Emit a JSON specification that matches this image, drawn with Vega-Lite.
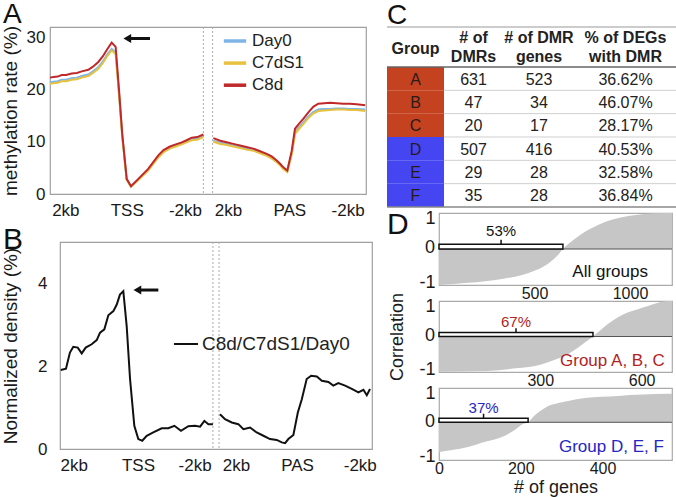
{
  "$schema": "https://vega.github.io/schema/vega-lite/v6.json",
  "background": "white",
  "padding": {"left": 0, "top": 0, "right": 0, "bottom": 0},
  "config": {
    "font": "Liberation Sans",
    "view": {"stroke": null},
    "axis": {"grid": false, "domain": false, "ticks": false, "labelColor": "#1a1a1a", "titleColor": "#1a1a1a", "titleFontWeight": "normal", "labelFlush": false, "labelOverlap": false, "labelBound": false},
    "title": {"fontWeight": "normal", "fontSize": 30, "anchor": "start", "frame": "group", "offset": 0, "baseline": "alphabetic", "color": "#111"},
    "text": {"font": "Liberation Sans"}
  },
  "datasets": {
    "methyl": [
      {"pos":0,"seg":"TSS","Day0":21.4,"C7dS1":21.1,"C8d":22.3},
      {"pos":2.2,"seg":"TSS","Day0":21.5,"C7dS1":21.2,"C8d":22.4},
      {"pos":5,"seg":"TSS","Day0":21.6,"C7dS1":21.3,"C8d":22.5},
      {"pos":7.6,"seg":"TSS","Day0":21.9,"C7dS1":21.6,"C8d":22.8},
      {"pos":10.5,"seg":"TSS","Day0":21.9,"C7dS1":21.6,"C8d":22.8},
      {"pos":14.1,"seg":"TSS","Day0":22.2,"C7dS1":21.9,"C8d":23.1},
      {"pos":17.5,"seg":"TSS","Day0":22.3,"C7dS1":22.0,"C8d":23.2},
      {"pos":20.7,"seg":"TSS","Day0":22.6,"C7dS1":22.3,"C8d":23.5},
      {"pos":25,"seg":"TSS","Day0":22.9,"C7dS1":22.6,"C8d":23.8},
      {"pos":28,"seg":"TSS","Day0":23.5,"C7dS1":23.2,"C8d":24.4},
      {"pos":31.5,"seg":"TSS","Day0":24.3,"C7dS1":24.0,"C8d":25.3},
      {"pos":34.5,"seg":"TSS","Day0":25.4,"C7dS1":25.1,"C8d":26.4},
      {"pos":37,"seg":"TSS","Day0":26.6,"C7dS1":26.3,"C8d":27.6},
      {"pos":40.2,"seg":"TSS","Day0":27.8,"C7dS1":27.5,"C8d":29.0},
      {"pos":42.8,"seg":"TSS","Day0":27.1,"C7dS1":26.8,"C8d":28.2},
      {"pos":45,"seg":"TSS","Day0":19.3,"C7dS1":19.0,"C8d":19.9},
      {"pos":47.1,"seg":"TSS","Day0":11.2,"C7dS1":11.0,"C8d":11.5},
      {"pos":50,"seg":"TSS","Day0":2.8,"C7dS1":2.7,"C8d":2.9},
      {"pos":52.8,"seg":"TSS","Day0":1.4,"C7dS1":1.4,"C8d":1.5},
      {"pos":57.6,"seg":"TSS","Day0":2.8,"C7dS1":2.7,"C8d":2.9},
      {"pos":64,"seg":"TSS","Day0":4.6,"C7dS1":4.5,"C8d":4.8},
      {"pos":70.6,"seg":"TSS","Day0":7.1,"C7dS1":7.0,"C8d":7.4},
      {"pos":74,"seg":"TSS","Day0":8.1,"C7dS1":8.0,"C8d":8.4},
      {"pos":78.2,"seg":"TSS","Day0":8.9,"C7dS1":8.7,"C8d":9.1},
      {"pos":82,"seg":"TSS","Day0":9.3,"C7dS1":9.1,"C8d":9.5},
      {"pos":85.9,"seg":"TSS","Day0":9.7,"C7dS1":9.5,"C8d":9.9},
      {"pos":89,"seg":"TSS","Day0":10.1,"C7dS1":9.9,"C8d":10.3},
      {"pos":92.4,"seg":"TSS","Day0":10.5,"C7dS1":10.3,"C8d":10.8},
      {"pos":96,"seg":"TSS","Day0":10.6,"C7dS1":10.4,"C8d":10.9},
      {"pos":100,"seg":"TSS","Day0":11.1,"C7dS1":10.9,"C8d":11.4},
      {"pos":106.5,"seg":"PAS","Day0":10.2,"C7dS1":10.0,"C8d":10.7},
      {"pos":111,"seg":"PAS","Day0":9.8,"C7dS1":9.6,"C8d":10.2},
      {"pos":115.2,"seg":"PAS","Day0":9.6,"C7dS1":9.4,"C8d":9.9},
      {"pos":119.5,"seg":"PAS","Day0":9.3,"C7dS1":9.1,"C8d":9.6},
      {"pos":123.9,"seg":"PAS","Day0":9.0,"C7dS1":8.8,"C8d":9.3},
      {"pos":128,"seg":"PAS","Day0":8.7,"C7dS1":8.5,"C8d":9.0},
      {"pos":132.5,"seg":"PAS","Day0":8.5,"C7dS1":8.3,"C8d":8.7},
      {"pos":137,"seg":"PAS","Day0":8.0,"C7dS1":7.8,"C8d":8.2},
      {"pos":141.3,"seg":"PAS","Day0":7.5,"C7dS1":7.3,"C8d":7.7},
      {"pos":144.5,"seg":"PAS","Day0":6.9,"C7dS1":6.8,"C8d":7.2},
      {"pos":147.8,"seg":"PAS","Day0":6.2,"C7dS1":6.1,"C8d":6.4},
      {"pos":150,"seg":"PAS","Day0":5.6,"C7dS1":5.5,"C8d":5.8},
      {"pos":152.1,"seg":"PAS","Day0":4.9,"C7dS1":4.8,"C8d":5.1},
      {"pos":154.7,"seg":"PAS","Day0":4.3,"C7dS1":4.2,"C8d":4.5},
      {"pos":157.6,"seg":"PAS","Day0":7.8,"C7dS1":7.6,"C8d":8.3},
      {"pos":159.7,"seg":"PAS","Day0":11.8,"C7dS1":11.5,"C8d":12.5},
      {"pos":162.4,"seg":"PAS","Day0":12.8,"C7dS1":12.5,"C8d":13.5},
      {"pos":165.1,"seg":"PAS","Day0":13.7,"C7dS1":13.4,"C8d":14.4},
      {"pos":168.3,"seg":"PAS","Day0":14.8,"C7dS1":14.5,"C8d":15.6},
      {"pos":171.6,"seg":"PAS","Day0":15.7,"C7dS1":15.4,"C8d":16.7},
      {"pos":174.9,"seg":"PAS","Day0":16.2,"C7dS1":15.9,"C8d":17.3},
      {"pos":178.7,"seg":"PAS","Day0":16.3,"C7dS1":16.0,"C8d":17.4},
      {"pos":182.5,"seg":"PAS","Day0":16.3,"C7dS1":16.1,"C8d":17.5},
      {"pos":186.8,"seg":"PAS","Day0":16.4,"C7dS1":16.2,"C8d":17.4},
      {"pos":191.2,"seg":"PAS","Day0":16.4,"C7dS1":16.2,"C8d":17.3},
      {"pos":195.5,"seg":"PAS","Day0":16.3,"C7dS1":16.1,"C8d":17.3},
      {"pos":199.9,"seg":"PAS","Day0":16.3,"C7dS1":16.1,"C8d":17.2},
      {"pos":205.5,"seg":"PAS","Day0":16.2,"C7dS1":15.9,"C8d":17.0}
    ],
    "dens": [
      {"pos":0.5,"seg":"TSS","dens":1.91},{"pos":3.9,"seg":"TSS","dens":1.94},{"pos":6.5,"seg":"TSS","dens":2.33},
      {"pos":8.7,"seg":"TSS","dens":2.47},{"pos":11.6,"seg":"TSS","dens":2.45},{"pos":14.2,"seg":"TSS","dens":2.31},
      {"pos":16.8,"seg":"TSS","dens":2.45},{"pos":20.7,"seg":"TSS","dens":2.53},{"pos":24,"seg":"TSS","dens":2.63},
      {"pos":26.2,"seg":"TSS","dens":2.81},{"pos":29,"seg":"TSS","dens":2.89},{"pos":31.6,"seg":"TSS","dens":3.23},
      {"pos":34.9,"seg":"TSS","dens":3.33},{"pos":37.1,"seg":"TSS","dens":3.49},{"pos":39.2,"seg":"TSS","dens":3.73},
      {"pos":41.4,"seg":"TSS","dens":3.81},{"pos":43.6,"seg":"TSS","dens":2.97},{"pos":45.8,"seg":"TSS","dens":1.69},
      {"pos":48.6,"seg":"TSS","dens":0.56},{"pos":51.2,"seg":"TSS","dens":0.24},{"pos":53.8,"seg":"TSS","dens":0.2},
      {"pos":56.7,"seg":"TSS","dens":0.32},{"pos":61,"seg":"TSS","dens":0.40},{"pos":66.5,"seg":"TSS","dens":0.50},
      {"pos":70.8,"seg":"TSS","dens":0.50},{"pos":74.8,"seg":"TSS","dens":0.56},{"pos":79.1,"seg":"TSS","dens":0.44},
      {"pos":83.9,"seg":"TSS","dens":0.55},{"pos":88.3,"seg":"TSS","dens":0.56},{"pos":91.6,"seg":"TSS","dens":0.54},
      {"pos":94.4,"seg":"TSS","dens":0.68},{"pos":97,"seg":"TSS","dens":0.60},{"pos":100,"seg":"TSS","dens":0.60},
      {"pos":104.6,"seg":"PAS","dens":0.84},{"pos":107.9,"seg":"PAS","dens":0.72},{"pos":112.3,"seg":"PAS","dens":0.64},
      {"pos":116.6,"seg":"PAS","dens":0.60},{"pos":119.9,"seg":"PAS","dens":0.48},{"pos":124.3,"seg":"PAS","dens":0.52},
      {"pos":128.6,"seg":"PAS","dens":0.40},{"pos":133,"seg":"PAS","dens":0.32},{"pos":137.3,"seg":"PAS","dens":0.24},
      {"pos":141.7,"seg":"PAS","dens":0.22},{"pos":145,"seg":"PAS","dens":0.16},{"pos":147.2,"seg":"PAS","dens":0.14},
      {"pos":149.3,"seg":"PAS","dens":0.24},{"pos":152.6,"seg":"PAS","dens":0.34},{"pos":155.5,"seg":"PAS","dens":0.88},
      {"pos":158.1,"seg":"PAS","dens":1.20},{"pos":161.3,"seg":"PAS","dens":1.69},{"pos":164.2,"seg":"PAS","dens":1.77},
      {"pos":167.9,"seg":"PAS","dens":1.75},{"pos":171.2,"seg":"PAS","dens":1.65},{"pos":175.5,"seg":"PAS","dens":1.62},
      {"pos":178.7,"seg":"PAS","dens":1.53},{"pos":182,"seg":"PAS","dens":1.59},{"pos":186.4,"seg":"PAS","dens":1.53},
      {"pos":190.8,"seg":"PAS","dens":1.45},{"pos":195.1,"seg":"PAS","dens":1.37},{"pos":198.4,"seg":"PAS","dens":1.43},
      {"pos":200.6,"seg":"PAS","dens":1.30},{"pos":202.7,"seg":"PAS","dens":1.45}
    ],
    "table": [
      {"row":"A","group":"A","dmrs":631,"genes":523,"pct":"36.62%"},
      {"row":"B","group":"B","dmrs":47,"genes":34,"pct":"46.07%"},
      {"row":"C","group":"C","dmrs":20,"genes":17,"pct":"28.17%"},
      {"row":"D","group":"D","dmrs":507,"genes":416,"pct":"40.53%"},
      {"row":"E","group":"E","dmrs":29,"genes":28,"pct":"32.58%"},
      {"row":"F","group":"F","dmrs":35,"genes":28,"pct":"36.84%"}
    ],
    "header": [
      {"col":"group","row":"hdr","line":0,"text":"Group"},
      {"col":"dmrs","row":"hdr","line":1,"text":"# of"},
      {"col":"dmrs","row":"hdr","line":2,"text":"DMRs"},
      {"col":"genes","row":"hdr","line":1,"text":"# of DMR"},
      {"col":"genes","row":"hdr","line":2,"text":"genes"},
      {"col":"pct","row":"hdr","line":1,"text":"% of DEGs"},
      {"col":"pct","row":"hdr","line":2,"text":"with DMR"}
    ],
    "d1": [
      {"rank":0,"corr":-1.0},{"rank":152,"corr":-0.94},{"rank":330,"corr":-0.83},{"rank":435,"corr":-0.72},
      {"rank":503,"corr":-0.60},{"rank":571,"corr":-0.41},{"rank":623,"corr":-0.17},{"rank":649,"corr":0},
      {"rank":675,"corr":0.13},{"rank":728,"corr":0.35},{"rank":801,"corr":0.58},{"rank":869,"corr":0.75},
      {"rank":958,"corr":0.88},{"rank":1042,"corr":0.95},{"rank":1131,"corr":0.99},{"rank":1220,"corr":1.0}
    ],
    "d2": [
      {"rank":0,"corr":-0.99},{"rank":145,"corr":-0.97},{"rank":234,"corr":-0.89},{"rank":284,"corr":-0.83},
      {"rank":335,"corr":-0.68},{"rank":382,"corr":-0.50},{"rank":412,"corr":-0.31},{"rank":432,"corr":-0.17},
      {"rank":456,"corr":0},{"rank":500,"corr":0.35},{"rank":530,"corr":0.54},{"rank":560,"corr":0.68},
      {"rank":589,"corr":0.77},{"rank":619,"corr":0.86},{"rank":669,"corr":0.99},{"rank":690,"corr":1.0}
    ],
    "d3": [
      {"rank":0,"corr":-0.87},{"rank":32,"corr":-0.81},{"rank":71,"corr":-0.72},{"rank":113,"corr":-0.57},
      {"rank":154,"corr":-0.43},{"rank":186,"corr":-0.22},{"rank":205,"corr":-0.05},{"rank":218,"corr":0},
      {"rank":235,"corr":0.21},{"rank":259,"corr":0.42},{"rank":316,"corr":0.62},{"rank":357,"corr":0.71},
      {"rank":438,"corr":0.77},{"rank":560,"corr":0.83},{"rank":570,"corr":0.83}
    ],
    "bars": [
      {"panel":"all","neg":649,"mid":325,"label":"53%","name":"All groups"},
      {"panel":"abc","neg":456,"mid":228,"label":"67%","name":"Group A, B, C"},
      {"panel":"def","neg":218,"mid":109,"label":"37%","name":"Group D, E, F"}
    ]
  },
  "resolve": {"scale": {"color": "independent"}, "legend": {"color": "independent"}},
  "hconcat": [
    {
      "resolve": {"scale": {"color": "independent"}, "legend": {"color": "independent"}},
      "vconcat": [
        {
          "width": 316, "height": 167,
          "view": {"stroke": "#a0a0a0", "strokeWidth": 1.2},
          "title": {"text": "A", "fontSize": 28, "dx": -47, "dy": 8},
          "layer": [
            {"data": {"values": [{}]}, "mark": {"type": "rule", "color": "#aaa", "strokeDash": [2, 2], "strokeWidth": 1}, "encoding": {"x": {"datum": 100}}},
            {"data": {"values": [{}]}, "mark": {"type": "rule", "color": "#aaa", "strokeDash": [2, 2], "strokeWidth": 1}, "encoding": {"x": {"datum": 106}}},
            {
              "data": {"name": "methyl"},
              "transform": [{"fold": ["Day0", "C7dS1", "C8d"], "as": ["sample", "rate"]}],
              "mark": {"type": "line", "strokeWidth": 2},
              "encoding": {
                "x": {"field": "pos", "type": "quantitative", "scale": {"domain": [0, 206], "nice": false, "zero": false},
                      "axis": {"values": [10, 50, 88, 116, 156, 194], "labelExpr": "datum.value == 50 ? 'TSS' : datum.value == 156 ? 'PAS' : (datum.value == 10 || datum.value == 116) ? '2kb' : '-2kb'", "labelFontSize": 17, "labelPadding": 8, "title": null}},
                "y": {"field": "rate", "type": "quantitative", "scale": {"domain": [0, 32], "nice": false},
                      "axis": {"values": [0, 10, 20, 30], "labelFontSize": 17, "labelPadding": 5, "title": "methylation rate (%)", "titleFontSize": 19, "titlePadding": 6}},
                "color": {"field": "sample", "type": "nominal", "scale": {"domain": ["Day0", "C7dS1", "C8d"], "range": ["#7fb5e6", "#e7c23f", "#c0282a"]},
                          "legend": {"orient": "none", "legendX": 172, "legendY": 1, "title": null, "symbolType": "stroke", "symbolStrokeWidth": 3.5, "symbolSize": 500, "labelFontSize": 17, "labelOffset": 4, "rowPadding": 1.1, "padding": 0, "labelColor": "#222"}},
                "detail": {"field": "seg", "type": "nominal"}
              }
            },
            {"data": {"values": [{}]}, "mark": {"type": "rule", "strokeWidth": 3, "color": "#111"}, "encoding": {"x": {"datum": 50}, "x2": {"datum": 65.2}, "y": {"datum": 29.8}}},
            {"data": {"values": [{}]}, "mark": {"type": "point", "shape": "triangle-left", "size": 80, "filled": true, "color": "#111", "opacity": 1}, "encoding": {"x": {"datum": 50.4}, "y": {"datum": 29.8}}}
          ]
        },
        {
          "resolve": {"scale": {"color": "independent"}, "legend": {"color": "independent"}},
          "hconcat": [
            {"width": 1, "height": 1, "data": {"values": [{"s": 0}]}, "mark": {"type": "point", "opacity": 0}, "encoding": {"x": {"field": "s", "type": "quantitative", "axis": null}}},
            {
              "width": 312, "height": 207,
              "view": {"stroke": "#a0a0a0", "strokeWidth": 1.2},
              "title": {"text": "B", "dx": -57, "dy": 17},
              "layer": [
                {"data": {"values": [{}]}, "mark": {"type": "rule", "color": "#aaa", "strokeDash": [2, 2], "strokeWidth": 1}, "encoding": {"x": {"datum": 100}}},
                {"data": {"values": [{}]}, "mark": {"type": "rule", "color": "#aaa", "strokeDash": [2, 2], "strokeWidth": 1}, "encoding": {"x": {"datum": 104}}},
                {
                  "data": {"name": "dens"},
                  "transform": [{"fold": ["dens"], "as": ["series_key", "value"]}],
                  "mark": {"type": "line", "strokeWidth": 2},
                  "encoding": {
                    "x": {"field": "pos", "type": "quantitative", "scale": {"domain": [0, 204], "nice": false, "zero": false},
                          "axis": {"values": [9, 51, 88, 115, 155, 196], "labelExpr": "datum.value == 51 ? 'TSS' : datum.value == 155 ? 'PAS' : (datum.value == 9 || datum.value == 115) ? '2kb' : '-2kb'", "labelFontSize": 17, "labelPadding": 8, "title": null}},
                    "y": {"field": "value", "type": "quantitative", "scale": {"domain": [0, 5], "nice": false},
                          "axis": {"values": [0, 2, 4], "labelFontSize": 17, "labelPadding": 13, "title": "Normalized density (%)", "titleFontSize": 19, "titlePadding": 17}},
                    "color": {"field": "series_key", "type": "nominal", "scale": {"domain": ["dens"], "range": ["#111"]},
                              "legend": {"orient": "none", "legendX": 113, "legendY": 89, "title": null, "labelExpr": "'C8d/C7dS1/Day0'", "symbolType": "stroke", "symbolStrokeWidth": 2, "symbolSize": 576, "labelFontSize": 19, "labelOffset": 3, "padding": 0, "labelColor": "#222"}},
                    "detail": {"field": "seg", "type": "nominal"}
                  }
                },
                {"data": {"values": [{}]}, "mark": {"type": "rule", "strokeWidth": 3, "color": "#111"}, "encoding": {"x": {"datum": 50.5}, "x2": {"datum": 64.3}, "y": {"datum": 3.84}}},
                {"data": {"values": [{}]}, "mark": {"type": "point", "shape": "triangle-left", "size": 80, "filled": true, "color": "#111", "opacity": 1}, "encoding": {"x": {"datum": 50.6}, "y": {"datum": 3.84}}}
              ]
            }
          ],
          "spacing": 9,
          "bounds": "flush"
        }
      ],
      "spacing": 48,
      "bounds": "flush"
    },
    {
      "resolve": {"scale": {"color": "independent"}, "legend": {"color": "independent"}},
      "vconcat": [
        {
          "resolve": {"scale": {"color": "independent"}, "legend": {"color": "independent"}},
          "hconcat": [
            {
              "width": 57, "height": 180,
              "title": {"text": "C", "fontSize": 28, "dx": 0, "dy": 8},
              "layer": [
                {"data": {"name": "table"}, "mark": {"type": "rect"},
                 "encoding": {"y": {"field": "row", "type": "nominal", "scale": {"domain": ["hdr", "A", "B", "C", "D", "E", "F"], "paddingInner": 0, "paddingOuter": 0.357, "align": 1}, "axis": null},
                              "color": {"field": "group", "type": "nominal", "scale": {"domain": ["A", "B", "C", "D", "E", "F"], "range": ["#c4421f", "#c4421f", "#c4421f", "#4545f2", "#4545f2", "#4545f2"]}, "legend": null}}},
                {"data": {"name": "table"}, "mark": {"type": "text", "fontSize": 16, "color": "#2a1a1a", "baseline": "middle"},
                 "encoding": {"y": {"field": "row", "type": "nominal", "bandPosition": 0.55}, "text": {"field": "group", "type": "nominal"}}},
                {"data": {"name": "header"}, "transform": [{"filter": "datum.col == 'group'"}], "mark": {"type": "text", "fontSize": 16, "fontWeight": "bold", "color": "#222", "baseline": "middle"},
                 "encoding": {"y": {"field": "row", "type": "nominal", "bandPosition": 0.23}, "text": {"field": "text", "type": "nominal"}}},
                {"data": {"name": "header"}, "transform": [{"filter": "datum.col == 'group'"}], "mark": {"type": "rule", "color": "#999", "strokeWidth": 1.2}, "encoding": {"y": {"field": "row", "type": "nominal", "bandPosition": -0.714}}},
                {"data": {"name": "table"}, "transform": [{"filter": "datum.row == 'A'"}], "mark": {"type": "rule", "color": "#666", "strokeWidth": 1.5}, "encoding": {"y": {"field": "row", "type": "nominal", "bandPosition": 0}}},
                {"data": {"name": "table"}, "transform": [{"filter": "datum.row == 'F'"}], "mark": {"type": "rule", "color": "#888", "strokeWidth": 1.5}, "encoding": {"y": {"field": "row", "type": "nominal", "bandPosition": 1}}}
              ]
            },
            {
              "width": 59, "height": 180,
              "layer": [
                {"data": {"name": "table"}, "mark": {"type": "text", "fontSize": 16, "color": "#222", "baseline": "middle"},
                 "encoding": {"y": {"field": "row", "type": "nominal", "bandPosition": 0.55, "scale": {"domain": ["hdr", "A", "B", "C", "D", "E", "F"], "paddingInner": 0, "paddingOuter": 0.357, "align": 1}, "axis": null}, "text": {"field": "dmrs", "type": "quantitative"}}},
                {"data": {"name": "header"}, "transform": [{"filter": "datum.col == 'dmrs' && datum.line == 1"}], "mark": {"type": "text", "fontSize": 16, "fontWeight": "bold", "color": "#222", "baseline": "middle"},
                 "encoding": {"y": {"field": "row", "type": "nominal", "bandPosition": -0.24}, "text": {"field": "text", "type": "nominal"}}},
                {"data": {"name": "header"}, "transform": [{"filter": "datum.col == 'dmrs' && datum.line == 2"}], "mark": {"type": "text", "fontSize": 16, "fontWeight": "bold", "color": "#222", "baseline": "middle"},
                 "encoding": {"y": {"field": "row", "type": "nominal", "bandPosition": 0.57}, "text": {"field": "text", "type": "nominal"}}},
                {"data": {"name": "header"}, "transform": [{"filter": "datum.col == 'dmrs' && datum.line == 1"}], "mark": {"type": "rule", "color": "#999", "strokeWidth": 1.2}, "encoding": {"y": {"field": "row", "type": "nominal", "bandPosition": -0.714}}},
                {"data": {"name": "table"}, "transform": [{"filter": "datum.row == 'A'"}], "mark": {"type": "rule", "color": "#666", "strokeWidth": 1.5}, "encoding": {"y": {"field": "row", "type": "nominal", "bandPosition": 0}}},
                {"data": {"name": "table"}, "transform": [{"filter": {"field": "row", "oneOf": ["B", "C", "D", "E", "F"]}}], "mark": {"type": "rule", "color": "#cfcfcf", "strokeWidth": 1}, "encoding": {"y": {"field": "row", "type": "nominal", "bandPosition": 0}}},
                {"data": {"name": "table"}, "transform": [{"filter": "datum.row == 'F'"}], "mark": {"type": "rule", "color": "#888", "strokeWidth": 1.5}, "encoding": {"y": {"field": "row", "type": "nominal", "bandPosition": 1}}}
              ]
            },
            {
              "width": 72, "height": 180,
              "layer": [
                {"data": {"name": "table"}, "mark": {"type": "text", "fontSize": 16, "color": "#222", "baseline": "middle"},
                 "encoding": {"y": {"field": "row", "type": "nominal", "bandPosition": 0.55, "scale": {"domain": ["hdr", "A", "B", "C", "D", "E", "F"], "paddingInner": 0, "paddingOuter": 0.357, "align": 1}, "axis": null}, "text": {"field": "genes", "type": "quantitative"}}},
                {"data": {"name": "header"}, "transform": [{"filter": "datum.col == 'genes' && datum.line == 1"}], "mark": {"type": "text", "fontSize": 16, "fontWeight": "bold", "color": "#222", "baseline": "middle"},
                 "encoding": {"y": {"field": "row", "type": "nominal", "bandPosition": -0.24}, "text": {"field": "text", "type": "nominal"}}},
                {"data": {"name": "header"}, "transform": [{"filter": "datum.col == 'genes' && datum.line == 2"}], "mark": {"type": "text", "fontSize": 16, "fontWeight": "bold", "color": "#222", "baseline": "middle"},
                 "encoding": {"y": {"field": "row", "type": "nominal", "bandPosition": 0.57}, "text": {"field": "text", "type": "nominal"}}},
                {"data": {"name": "header"}, "transform": [{"filter": "datum.col == 'genes' && datum.line == 1"}], "mark": {"type": "rule", "color": "#999", "strokeWidth": 1.2}, "encoding": {"y": {"field": "row", "type": "nominal", "bandPosition": -0.714}}},
                {"data": {"name": "table"}, "transform": [{"filter": "datum.row == 'A'"}], "mark": {"type": "rule", "color": "#666", "strokeWidth": 1.5}, "encoding": {"y": {"field": "row", "type": "nominal", "bandPosition": 0}}},
                {"data": {"name": "table"}, "transform": [{"filter": {"field": "row", "oneOf": ["B", "C", "D", "E", "F"]}}], "mark": {"type": "rule", "color": "#cfcfcf", "strokeWidth": 1}, "encoding": {"y": {"field": "row", "type": "nominal", "bandPosition": 0}}},
                {"data": {"name": "table"}, "transform": [{"filter": "datum.row == 'F'"}], "mark": {"type": "rule", "color": "#888", "strokeWidth": 1.5}, "encoding": {"y": {"field": "row", "type": "nominal", "bandPosition": 1}}}
              ]
            },
            {
              "width": 101, "height": 180,
              "layer": [
                {"data": {"name": "table"}, "mark": {"type": "text", "fontSize": 16, "color": "#222", "baseline": "middle"},
                 "encoding": {"y": {"field": "row", "type": "nominal", "bandPosition": 0.55, "scale": {"domain": ["hdr", "A", "B", "C", "D", "E", "F"], "paddingInner": 0, "paddingOuter": 0.357, "align": 1}, "axis": null}, "text": {"field": "pct", "type": "nominal"}}},
                {"data": {"name": "header"}, "transform": [{"filter": "datum.col == 'pct' && datum.line == 1"}], "mark": {"type": "text", "fontSize": 16, "fontWeight": "bold", "color": "#222", "baseline": "middle"},
                 "encoding": {"y": {"field": "row", "type": "nominal", "bandPosition": -0.24}, "text": {"field": "text", "type": "nominal"}}},
                {"data": {"name": "header"}, "transform": [{"filter": "datum.col == 'pct' && datum.line == 2"}], "mark": {"type": "text", "fontSize": 16, "fontWeight": "bold", "color": "#222", "baseline": "middle"},
                 "encoding": {"y": {"field": "row", "type": "nominal", "bandPosition": 0.57}, "text": {"field": "text", "type": "nominal"}}},
                {"data": {"name": "header"}, "transform": [{"filter": "datum.col == 'pct' && datum.line == 1"}], "mark": {"type": "rule", "color": "#999", "strokeWidth": 1.2}, "encoding": {"y": {"field": "row", "type": "nominal", "bandPosition": -0.714}}},
                {"data": {"name": "table"}, "transform": [{"filter": "datum.row == 'A'"}], "mark": {"type": "rule", "color": "#666", "strokeWidth": 1.5}, "encoding": {"y": {"field": "row", "type": "nominal", "bandPosition": 0}}},
                {"data": {"name": "table"}, "transform": [{"filter": {"field": "row", "oneOf": ["B", "C", "D", "E", "F"]}}], "mark": {"type": "rule", "color": "#cfcfcf", "strokeWidth": 1}, "encoding": {"y": {"field": "row", "type": "nominal", "bandPosition": 0}}},
                {"data": {"name": "table"}, "transform": [{"filter": "datum.row == 'F'"}], "mark": {"type": "rule", "color": "#888", "strokeWidth": 1.5}, "encoding": {"y": {"field": "row", "type": "nominal", "bandPosition": 1}}}
              ]
            }
          ],
          "spacing": 0,
          "bounds": "flush"
        },
        {
          "hconcat": [
            {"width": 1, "height": 1, "data": {"values": [{"s": 0}]}, "mark": {"type": "point", "opacity": 0}, "encoding": {"x": {"field": "s", "type": "quantitative", "axis": null}}},
            {
              "vconcat": [
                {
                  "width": 233, "height": 72,
                  "view": {"stroke": "#aaa", "strokeWidth": 1.2},
                  "title": {"text": "D", "dx": -52, "dy": 35},
                  "layer": [
                    {"data": {"name": "d1"}, "mark": {"type": "area", "color": "#c6c6c6", "interpolate": "monotone"},
                     "encoding": {
                       "x": {"field": "rank", "type": "quantitative", "scale": {"domain": [0, 1220], "nice": false}, "axis": {"values": [500, 1000], "format": "d", "labelFontSize": 16, "labelPadding": 0, "title": null}},
                       "y": {"field": "corr", "type": "quantitative", "scale": {"domain": [-1, 1], "nice": false}, "axis": {"values": [-1, 0, 1], "labelExpr": "datum.value > 0.5 ? '1' : datum.value < -0.5 ? '-1' : '0'", "labelFontSize": 18, "labelPadding": 4, "labelOverlap": false, "labelSeparation": 0, "labelOffset": {"condition": [{"test": "datum.value == 1", "value": 5}, {"test": "datum.value == -1", "value": -3}], "value": -1}, "title": null}},
                       "y2": {"datum": 0}}},
                    {"data": {"values": [{"zero": 0}]}, "mark": {"type": "rule", "color": "#555", "strokeWidth": 1}, "encoding": {"y": {"field": "zero", "type": "quantitative"}}},
                    {"data": {"values": [{"tick": 0}]}, "mark": {"type": "text", "fontSize": 18, "align": "right", "baseline": "middle", "color": "#1a1a1a", "dy": -1}, "encoding": {"x": {"datum": -21}, "y": {"field": "tick", "type": "quantitative"}, "text": {"field": "tick", "type": "quantitative"}}},
                    {"data": {"name": "bars"}, "transform": [{"filter": "datum.panel == 'all'"}],
                     "layer": [
                       {"mark": {"type": "rect", "fill": "white", "stroke": "#111", "strokeWidth": 1.5}, "encoding": {"x": {"field": "neg", "type": "quantitative"}, "x2": {"datum": 0}, "y": {"datum": 0}, "y2": {"datum": 0.13}}},
                       {"mark": {"type": "rule", "color": "#111", "strokeWidth": 1.5}, "encoding": {"x": {"field": "mid", "type": "quantitative"}, "y": {"datum": 0.13}, "y2": {"datum": 0.26}}},
                       {"mark": {"type": "text", "fontSize": 15, "baseline": "middle", "color": "#111"}, "encoding": {"x": {"field": "mid", "type": "quantitative"}, "y": {"datum": 0.49}, "text": {"field": "label", "type": "nominal"}}},
                       {"mark": {"type": "text", "fontSize": 17, "align": "right", "baseline": "middle", "color": "#111"}, "encoding": {"x": {"datum": 1094}, "y": {"datum": -0.65}, "text": {"field": "name", "type": "nominal"}}}
                     ]}
                  ]
                },
                {
                  "width": 233, "height": 71,
                  "view": {"stroke": "#aaa", "strokeWidth": 1.2},
                  "layer": [
                    {"data": {"name": "d2"}, "mark": {"type": "area", "color": "#c6c6c6", "interpolate": "monotone"},
                     "encoding": {
                       "x": {"field": "rank", "type": "quantitative", "scale": {"domain": [0, 690], "nice": false}, "axis": {"values": [300, 600], "format": "d", "labelFontSize": 16, "labelPadding": 0, "title": null}},
                       "y": {"field": "corr", "type": "quantitative", "scale": {"domain": [-1, 1], "nice": false}, "axis": {"values": [-1, 0, 1], "labelExpr": "datum.value > 0.5 ? '1' : datum.value < -0.5 ? '-1' : '0'", "labelFontSize": 18, "labelPadding": 4, "labelOverlap": false, "labelSeparation": 0, "labelOffset": {"condition": [{"test": "datum.value == 1", "value": 5}, {"test": "datum.value == -1", "value": -3}], "value": -1}, "title": "Correlation", "titleFontSize": 18, "titlePadding": 12}},
                       "y2": {"datum": 0}}},
                    {"data": {"values": [{"zero": 0}]}, "mark": {"type": "rule", "color": "#555", "strokeWidth": 1}, "encoding": {"y": {"field": "zero", "type": "quantitative"}}},
                    {"data": {"values": [{"tick": 0}]}, "mark": {"type": "text", "fontSize": 18, "align": "right", "baseline": "middle", "color": "#1a1a1a", "dy": -1}, "encoding": {"x": {"datum": -11.8}, "y": {"field": "tick", "type": "quantitative"}, "text": {"field": "tick", "type": "quantitative"}}},
                    {"data": {"name": "bars"}, "transform": [{"filter": "datum.panel == 'abc'"}],
                     "layer": [
                       {"mark": {"type": "rect", "fill": "white", "stroke": "#111", "strokeWidth": 1.5}, "encoding": {"x": {"field": "neg", "type": "quantitative"}, "x2": {"datum": 0}, "y": {"datum": 0}, "y2": {"datum": 0.11}}},
                       {"mark": {"type": "rule", "color": "#111", "strokeWidth": 1.5}, "encoding": {"x": {"field": "mid", "type": "quantitative"}, "y": {"datum": 0.11}, "y2": {"datum": 0.23}}},
                       {"mark": {"type": "text", "fontSize": 15, "baseline": "middle", "color": "#b11f24"}, "encoding": {"x": {"field": "mid", "type": "quantitative"}, "y": {"datum": 0.42}, "text": {"field": "label", "type": "nominal"}}},
                       {"mark": {"type": "text", "fontSize": 17, "align": "right", "baseline": "middle", "color": "#b11f24"}, "encoding": {"x": {"datum": 669}, "y": {"datum": -0.68}, "text": {"field": "name", "type": "nominal"}}}
                     ]}
                  ]
                },
                {
                  "width": 233, "height": 72,
                  "view": {"stroke": "#aaa", "strokeWidth": 1.2},
                  "layer": [
                    {"data": {"name": "d3"}, "mark": {"type": "area", "color": "#c6c6c6", "interpolate": "monotone"},
                     "encoding": {
                       "x": {"field": "rank", "type": "quantitative", "scale": {"domain": [0, 570], "nice": false}, "axis": {"values": [0, 200, 400], "format": "d", "labelFontSize": 16, "labelPadding": 0, "title": "# of genes", "titleFontSize": 18, "titlePadding": 2}},
                       "y": {"field": "corr", "type": "quantitative", "scale": {"domain": [-1.1, 1], "nice": false}, "axis": {"values": [-1, 0, 1], "labelExpr": "datum.value > 0.5 ? '1' : datum.value < -0.5 ? '-1' : '0'", "labelFontSize": 18, "labelPadding": 4, "labelOverlap": false, "labelSeparation": 0, "labelOffset": {"condition": {"test": "datum.value == 1", "value": 5}, "value": 0}, "title": null}},
                       "y2": {"datum": 0}}},
                    {"data": {"values": [{"zero": 0}]}, "mark": {"type": "rule", "color": "#555", "strokeWidth": 1}, "encoding": {"y": {"field": "zero", "type": "quantitative"}}},
                    {"data": {"values": [{"tick": 0}]}, "mark": {"type": "text", "fontSize": 18, "align": "right", "baseline": "middle", "color": "#1a1a1a"}, "encoding": {"x": {"datum": -9.8}, "y": {"field": "tick", "type": "quantitative"}, "text": {"field": "tick", "type": "quantitative"}}},
                    {"data": {"name": "bars"}, "transform": [{"filter": "datum.panel == 'def'"}],
                     "layer": [
                       {"mark": {"type": "rect", "fill": "white", "stroke": "#111", "strokeWidth": 1.5}, "encoding": {"x": {"field": "neg", "type": "quantitative"}, "x2": {"datum": 0}, "y": {"datum": 0}, "y2": {"datum": 0.12}}},
                       {"mark": {"type": "rule", "color": "#111", "strokeWidth": 1.5}, "encoding": {"x": {"field": "mid", "type": "quantitative"}, "y": {"datum": 0.12}, "y2": {"datum": 0.25}}},
                       {"mark": {"type": "text", "fontSize": 15, "baseline": "middle", "color": "#2626c4"}, "encoding": {"x": {"field": "mid", "type": "quantitative"}, "y": {"datum": 0.41}, "text": {"field": "label", "type": "nominal"}}},
                       {"mark": {"type": "text", "fontSize": 17, "align": "right", "baseline": "middle", "color": "#2626c4"}, "encoding": {"x": {"datum": 550}, "y": {"datum": -0.72}, "text": {"field": "name", "type": "nominal"}}}
                     ]}
                  ]
                }
              ],
              "spacing": 16,
              "bounds": "flush"
            }
          ],
          "spacing": 51,
          "bounds": "flush"
        }
      ],
      "spacing": 186,
      "bounds": "flush"
    }
  ],
  "spacing": 337,
  "bounds": "flush"
}
